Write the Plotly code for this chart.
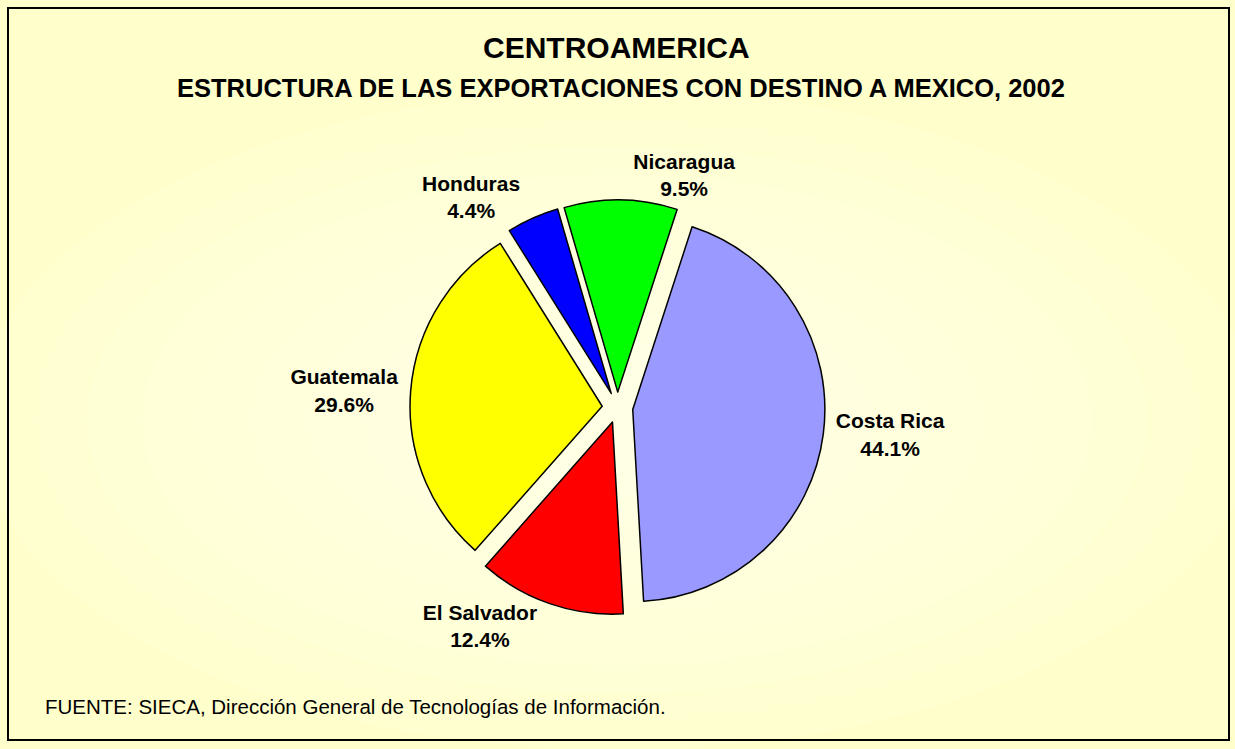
import plotly.graph_objects as go

W, H = 1235, 749

paises = ["Costa Rica", "El Salvador", "Guatemala", "Honduras", "Nicaragua"]
porcentajes = [44.1, 12.4, 29.6, 4.4, 9.5]
colores = ["#9999FF", "#FF0000", "#FFFF00", "#0000FF", "#00FF00"]

titulo = "CENTROAMERICA"
subtitulo = "ESTRUCTURA DE LAS EXPORTACIONES CON DESTINO A MEXICO, 2002"
fuente = "FUENTE: SIECA, Dirección General de Tecnologías de Información."

FONT = "Liberation Sans, Arial, sans-serif"

def px_x(x):
    return x / W

def px_y(y):
    return 1 - y / H

fig = go.Figure()

fig.add_trace(go.Pie(
    labels=paises,
    values=porcentajes,
    sort=False,
    direction="clockwise",
    rotation=18,
    pull=[0.08] * len(paises),
    marker=dict(colors=colores, line=dict(color="black", width=1.5)),
    textposition="outside",
    texttemplate="<b>%{label}</b><br><b>%{value:.1f}%</b>",
    textfont=dict(family=FONT, size=21, color="black"),
    domain=dict(x=[px_x(300), px_x(935)], y=[px_y(615), px_y(200)]),
    showlegend=False,
    hoverinfo="label+percent",
))

shapes = []
# soft radial highlight in the background
cx, cy = 617, 420
for i in range(10):
    rx = 640 - i * 55
    ry = 330 - i * 28
    shapes.append(dict(
        type="circle", xref="paper", yref="paper", layer="below",
        x0=px_x(cx - rx), x1=px_x(cx + rx), y0=px_y(cy + ry), y1=px_y(cy - ry),
        fillcolor="white", opacity=0.07, line=dict(width=0),
    ))
shapes.append(dict(
    type="rect", xref="paper", yref="paper",
    x0=px_x(8), x1=px_x(1229), y0=px_y(740), y1=px_y(8),
    line=dict(color="black", width=2), fillcolor="rgba(0,0,0,0)",
))

annotations = [
    dict(text="<b>" + titulo + "</b>", x=px_x(616), y=px_y(48), xref="paper", yref="paper",
         showarrow=False, font=dict(family=FONT, size=30, color="black"),
         xanchor="center", yanchor="middle"),
    dict(text="<b>" + subtitulo + "</b>", x=px_x(621), y=px_y(88), xref="paper", yref="paper",
         showarrow=False, font=dict(family=FONT, size=25.5, color="black"),
         xanchor="center", yanchor="middle"),
    dict(text=fuente, x=px_x(43), y=px_y(706), xref="paper", yref="paper",
         showarrow=False, font=dict(family=FONT, size=20.5, color="black"),
         xanchor="left", yanchor="middle"),
]

fig.update_layout(
    width=W, height=H,
    margin=dict(l=0, r=0, t=0, b=0),
    paper_bgcolor="#FFFFCC",
    plot_bgcolor="#FFFFCC",
    shapes=shapes,
    annotations=annotations,
)

fig.write_html(
    "out.html",
    config={"displayModeBar": False},
    post_script="document.body.style.margin='0';document.body.style.overflow='hidden';",
)
